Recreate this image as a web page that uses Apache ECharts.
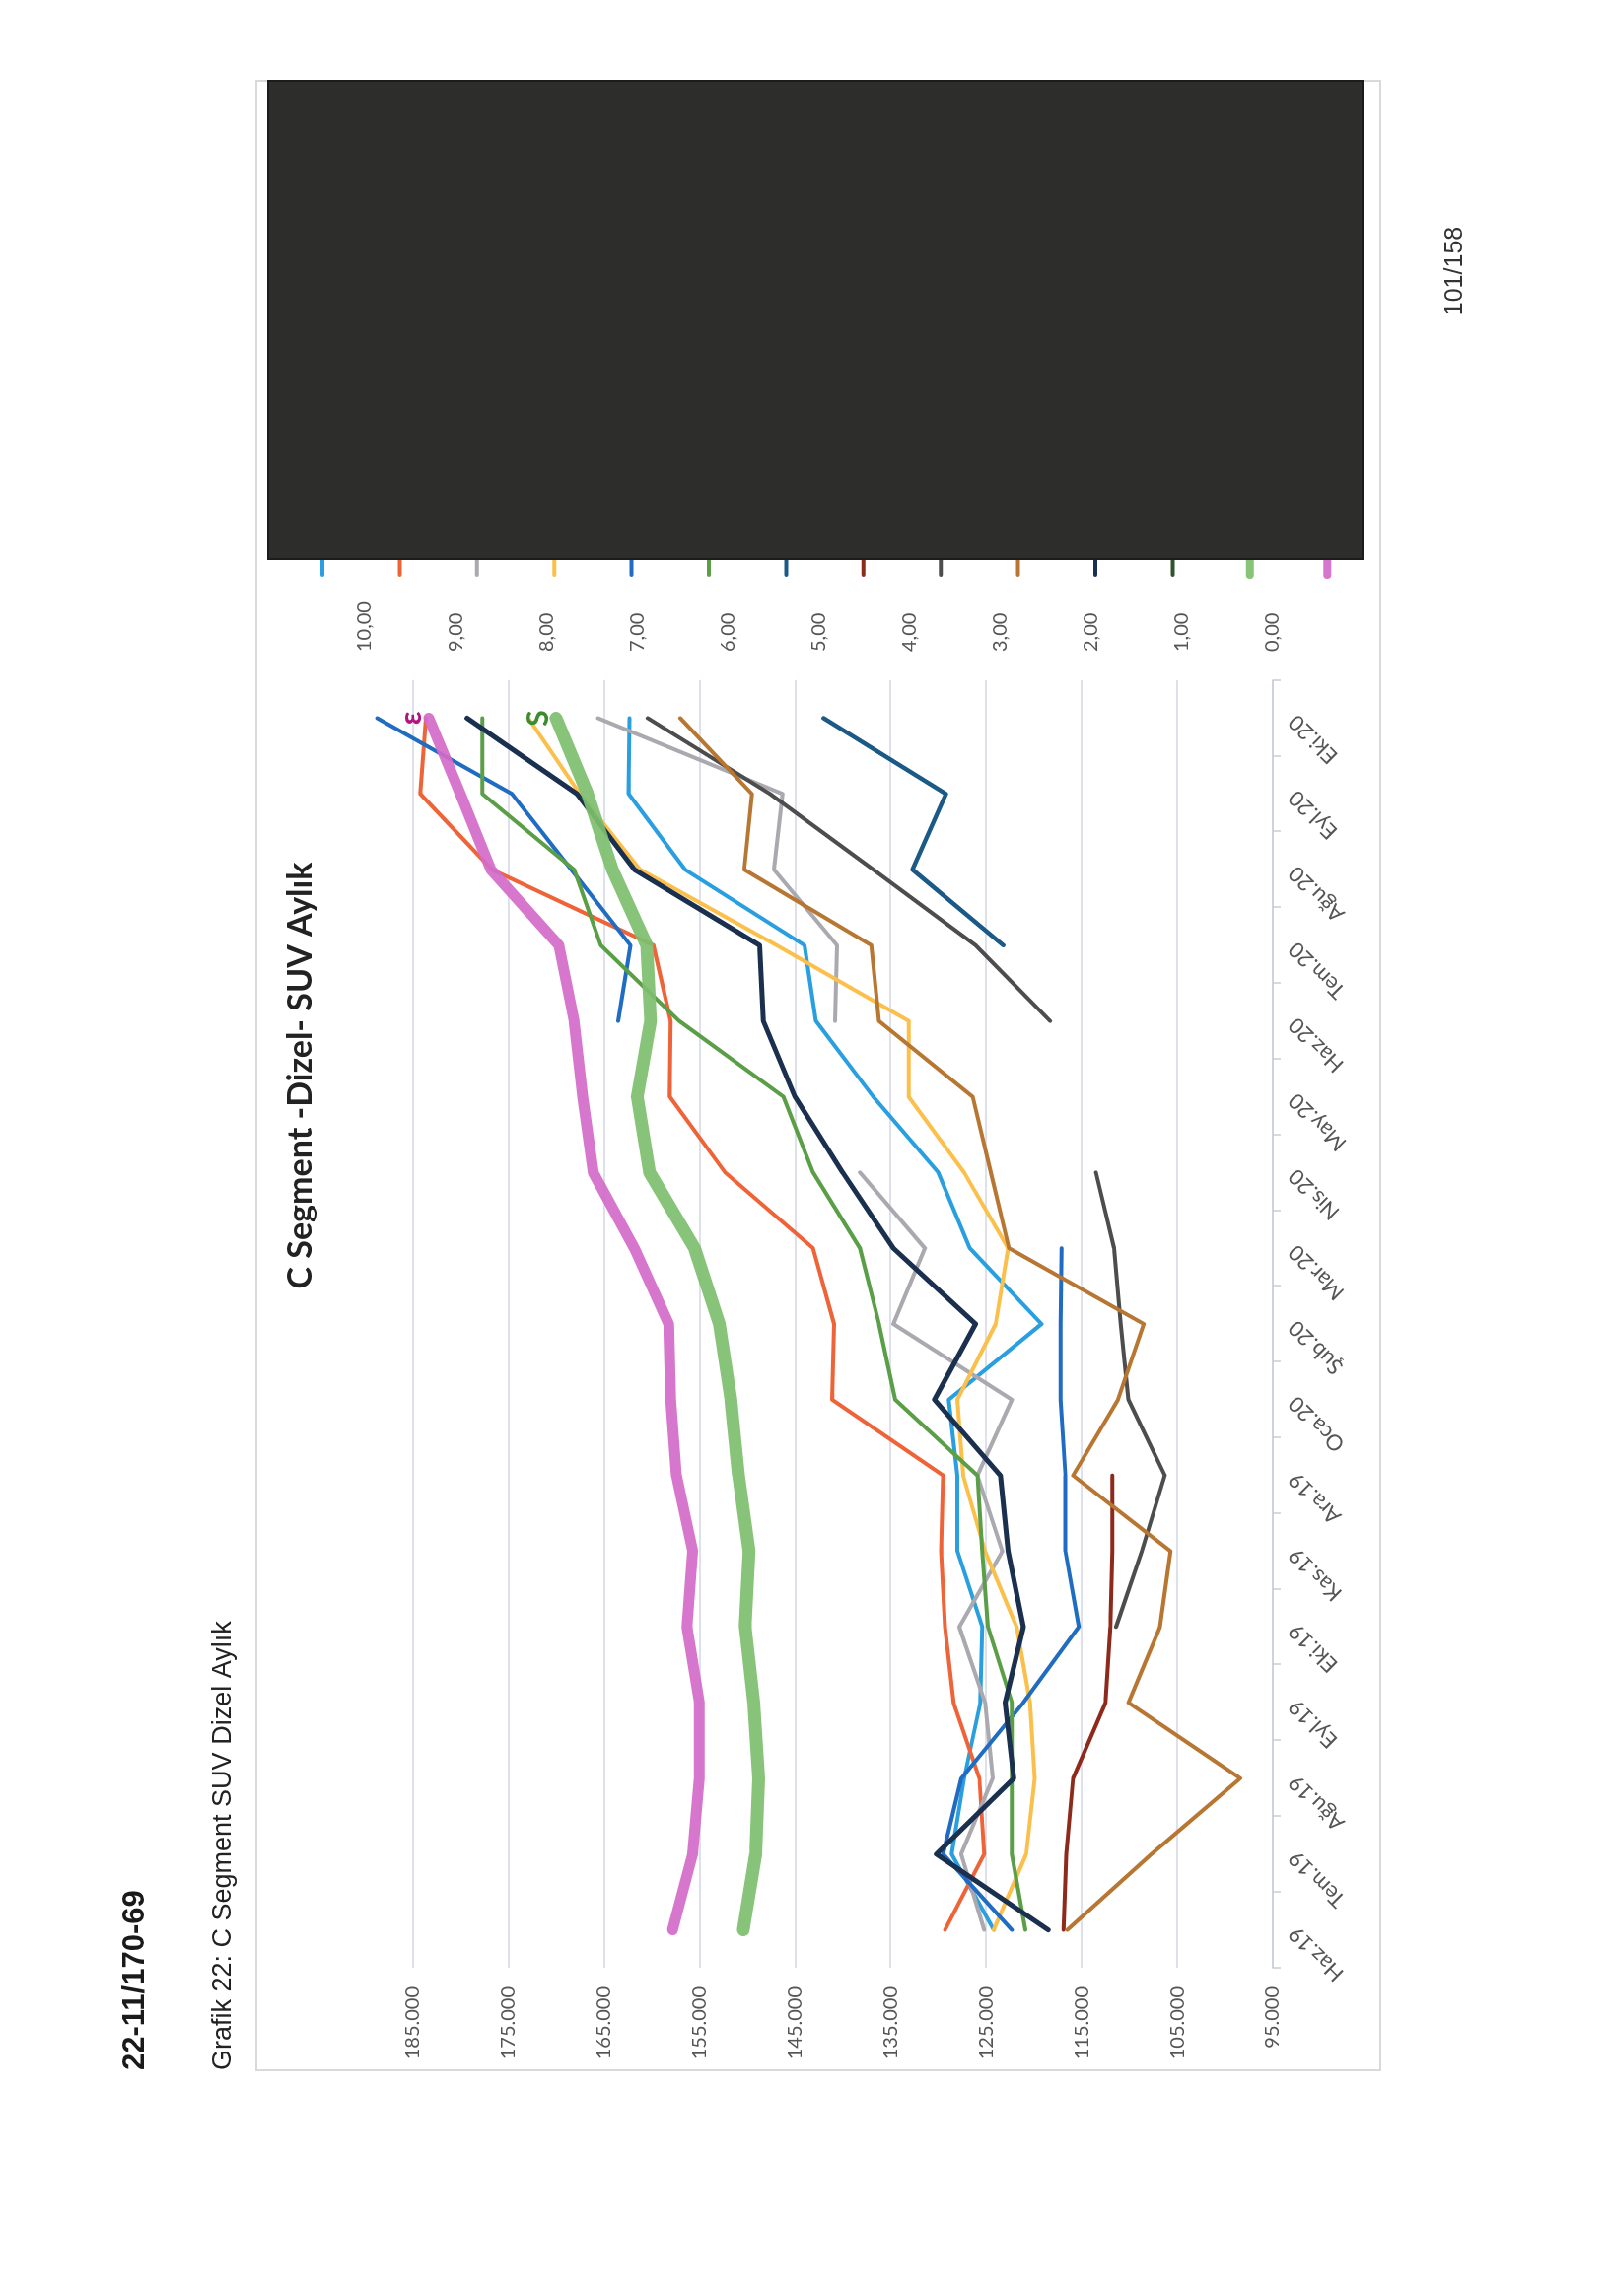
<!DOCTYPE html>
<html><head><meta charset="utf-8">
<script src="https://cdn.jsdelivr.net/npm/echarts@6/dist/echarts.min.js"></script>
<style>
html,body{margin:0;padding:0;background:#fff;width:1633px;height:2329px;overflow:hidden;}
#page{position:absolute;left:0;top:2329px;width:2329px;height:1633px;transform-origin:0 0;transform:rotate(-90deg);}
</style></head><body>
<div id="page"></div>
<script>
// ---- data ----
const categories = ['Haz.19','Tem.19','Ağu.19','Eyl.19','Eki.19','Kas.19','Ara.19','Oca.20','Şub.20','Mar.20','Nis.20','May.20','Haz.20','Tem.20','Ağu.20','Eyl.20','Eki.20'];
const primaryTicks = [95000,105000,115000,125000,135000,145000,155000,165000,175000,185000];
const secondaryTicks = [0,1,2,3,4,5,6,7,8,9,10];
const seriesNames = ['Model 1','Model 2','Model 3','Model 4','Model 5','Model 6','Model 7','Model 8','Model 9','Model 10','Model 11','Model 12','Model 13','Model 14'];

const s1  = [124200,128600,127300,125600,125400,128000,128000,128900,119200,126700,130000,136800,142800,144000,156500,162400,162300];
const s2  = [129300,125200,125700,128400,129300,129700,129500,141100,140900,143100,152300,158100,158000,159800,176700,184200,183600];
const s3  = [125200,127600,124300,125100,127800,123300,125900,122300,134700,131400,138200,null,140800,140600,147200,146300,165600];
const s4  = [124200,120800,119900,120400,121800,125100,127400,128000,124000,122700,127300,133100,133100,146900,161200,167500,172900];
const s5  = [122300,129500,127600,121100,115300,116700,116700,117200,117200,117100,null,null,163500,162200,168400,174600,188700];
const s6  = [120900,122300,122300,122300,124800,125400,125900,134500,136200,138200,143100,146200,157100,165300,168100,177700,177700];
const s7  = [null,null,null,null,null,null,null,null,null,null,null,null,null,123200,132700,129200,142000];
const s8  = [116900,116600,115900,112500,112000,111800,111800,null,null,null,null,null,null,null,null,null,null];
const s9  = [null,null,null,null,111400,108700,106300,110100,110900,111600,113500,null,118300,126100,136800,147600,160400];
const s10 = [116500,107700,98400,110100,106800,105700,115900,111200,108500,122600,124500,126400,136200,137000,150300,149500,157000];
const s11 = [118500,130200,122100,123000,121100,122700,123500,130400,126100,134700,140000,145000,148300,148700,161800,167800,179300];
const s12 = [null,null,null,null,null,null,null,null,null,null,null,null,null,null,null,null,null];
const s13 = [150400,149100,148800,149300,150200,149800,150900,151700,152900,155500,160200,161500,160100,160500,164100,166700,170000];
const s14 = [157800,155700,155000,155000,156300,155700,157400,158000,158200,161800,166100,167200,168100,169700,176800,180000,183300];
// small marks seen beside the last points of the two thick lines
const endLabels = {12: {text: 'S', color: '#3C8C2F'}, 13: {text: 'ε', color: '#B2167E'}};

const seriesData = [s1,s2,s3,s4,s5,s6,s7,s8,s9,s10,s11,s12,s13,s14];
const colors = ['#2A9FDF','#EE6338','#A9A9AF','#FBC04C','#1F6CC2','#5B9E48','#1B5A87','#8E2A1C','#4D4D4D','#B77733','#1B304F','#2E5530','#7DBF6E','#D26BC9'];
const widths = [4,4,4,4,4,4,4.5,4,4,4,5,4,13,11];

const chart = echarts.init(document.getElementById('page'), null, {renderer:'canvas'});
const fmtThousands = v => String(v).replace(/\B(?=(\d{3})+(?!\d))/g, '.');

function endMark(d, i) {
  const lab = endLabels[i];
  if (!lab) return undefined;
  const last = d.length - 1;
  return {
    symbol: 'circle', symbolSize: 2, silent: true,
    itemStyle: {color: 'rgba(0,0,0,0)'},
    label: {show: true, position: 'top', distance: 2, formatter: lab.text,
            fontFamily: 'Lato', fontWeight: 'bold', fontSize: 30, color: lab.color},
    data: [{coord: [categories[last], d[last]]}]
  };
}

const option = {
  animation: false,
  backgroundColor: '#ffffff',
  title: {
    text: 'C Segment -Dizel- SUV Aylık',
    left: 1238, top: 288, textAlign: 'center', padding: 0,
    textStyle: {fontFamily: 'Lato', fontSize: 34, fontWeight: 'bold', color: '#222222'}
  },
  legend: {
    orient: 'vertical', left: 1742, top: 320, padding: 0,
    itemWidth: 24, itemHeight: 14, itemGap: 64.4,
    itemStyle: {opacity: 0, borderWidth: 0},
    lineStyle: {width: 4},
    textStyle: {fontSize: 14, lineHeight: 14, color: '#595959'},
    data: seriesNames.map((n, i) => i >= 12 ? {name: n, lineStyle: {width: 8}} : n)
  },
  grid: {left: 333, right: 690, top: 370, bottom: 342, containLabel: false},
  xAxis: {
    type: 'category', data: categories, boundaryGap: true,
    axisLine: {show: true, lineStyle: {color: '#c9cdd9', width: 1.5}},
    axisTick: {show: true, length: 8, lineStyle: {color: '#c9cdd9', width: 1.5}},
    axisLabel: {rotate: 45, margin: 20, fontFamily: 'Lato', fontSize: 22, color: '#555555', interval: 0},
    splitLine: {show: false}
  },
  yAxis: [{
    type: 'value', min: 95000, max: 190000, interval: 5000, position: 'left',
    axisLine: {show: false}, axisTick: {show: false},
    axisLabel: {
      margin: 19, fontFamily: 'Lato', fontSize: 20, color: '#555555',
      formatter: v => primaryTicks.indexOf(v) >= 0 ? fmtThousands(v) : ''
    },
    splitLine: {show: true, lineStyle: {color: ['#d3d7e6', 'rgba(0,0,0,0)'], width: 1.5}}
  }, {
    type: 'value', min: 0, max: 10, interval: 1, position: 'right',
    axisLine: {show: false}, axisTick: {show: false}, splitLine: {show: false},
    axisLabel: {
      margin: 29, fontFamily: 'Lato', fontSize: 20, color: '#555555',
      formatter: v => secondaryTicks.indexOf(v) >= 0 ? v.toFixed(2).replace('.', ',') : ''
    }
  }],
  series: seriesData.map((d, i) => {
    const s = {
      name: seriesNames[i], type: 'line', data: d, yAxisIndex: 0,
      symbol: 'none', connectNulls: false, smooth: false,
      lineStyle: {color: colors[i], width: widths[i], cap: 'round', join: 'round', opacity: i >= 12 ? 0.92 : 1},
      itemStyle: {color: colors[i]},
      emphasis: {disabled: true}, silent: true
    };
    const mp = endMark(d, i);
    if (mp) s.markPoint = mp;
    return s;
  }),
  graphic: [
    {type: 'rect', z: -5, shape: {x: 229, y: 260, width: 2018, height: 1140},
     style: {fill: 'none', stroke: '#d9d9d9', lineWidth: 2}},
    {type: 'rect', z: 100, shape: {x: 1762, y: 272, width: 485, height: 1110},
     style: {fill: '#2d2e2b', stroke: '#1c1d1b', lineWidth: 2}},
    {type: 'text', z: 10, x: 229, y: 137,
     style: {text: '22-11/170-69', font: 'bold 31px "Liberation Sans", Arial, sans-serif', fill: '#1a1a1a',
             align: 'left', verticalAlign: 'middle', textAlign: 'left', textVerticalAlign: 'middle'}},
    {type: 'text', z: 10, x: 229, y: 227,
     style: {text: 'Grafik 22: C Segment SUV Dizel Aylık', font: '27px "Liberation Sans", Arial, sans-serif', fill: '#222222',
             align: 'left', verticalAlign: 'middle', textAlign: 'left', textVerticalAlign: 'middle'}},
    {type: 'text', z: 10, x: 2054, y: 1476,
     style: {text: '101/158', font: '25px "Liberation Sans", Arial, sans-serif', fill: '#333333',
             align: 'center', verticalAlign: 'middle', textAlign: 'center', textVerticalAlign: 'middle'}}
  ]
};
chart.setOption(option);
</script>
</body></html>
